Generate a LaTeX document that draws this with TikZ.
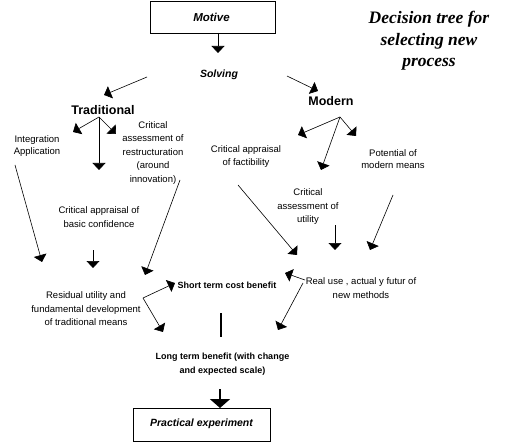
\documentclass[tikz,border=0pt]{standalone}
\usepackage{fontspec}
\setmainfont{Liberation Sans}
\newfontfamily\titlefont{Liberation Serif}
\usetikzlibrary{arrows.meta}
\tikzset{
  txt/.style={font=\fontsize{9.5}{13.5}\selectfont, align=center, inner sep=0pt},
  bld/.style={font=\bfseries\fontsize{9}{13.5}\selectfont, align=center, inner sep=0pt},
  hd/.style={font=\bfseries\fontsize{12.5}{15}\selectfont, inner sep=0pt},
  bi/.style={font=\bfseries\itshape\fontsize{10.5}{13}\selectfont, inner sep=0pt},
  boxed/.style={draw, line width=0.8pt},
  arr/.style={line width=0.6pt, -{Triangle[width=13pt,length=7pt]}},
  plain/.style={line width=0.5pt},
  bigarr/.style={line width=2pt, -{Triangle[width=20pt,length=9pt]}},
  thickline/.style={line width=2pt}
}
\begin{document}
\begin{tikzpicture}[x=1pt,y=-1pt]
\useasboundingbox (0,0) rectangle (515,444);
% boxes
\node[boxed, minimum width=125pt, minimum height=32pt, inner sep=0pt] (motivebox) at (212.5,17) {};
\node[bi, font=\bfseries\itshape\fontsize{11.5}{13}\selectfont] (motive) at (211.5,17) {Motive};
\node[boxed, minimum width=137pt, minimum height=33pt, inner sep=0pt] (practbox) at (201.5,424.5) {};
\node[bi] (pract) at (201.5,424) {Practical experiment};
% title
\node[font=\titlefont\bfseries\itshape\fontsize{17.5}{21.5}\selectfont, align=center, inner sep=0pt] (title) at (429,41) {Decision tree for\\selecting new\\process};
% texts
\node[bi] (solving) at (219,75) {Solving};
\node[hd] (trad) at (103,110) {Traditional};
\node[hd] (modern) at (331,101) {Modern};
\node[txt, font=\fontsize{9.5}{12}\selectfont] (integ) at (37,146) {Integration\\Application};
\node[txt] (restr) at (153,153) {Critical\\assessment of\\restructuration\\(around\\innovation)};
\node[txt] (basic) at (99,217) {Critical appraisal of\\basic confidence};
\node[txt] (resid) at (86,309) {Residual utility and\\fundamental development\\of traditional means};
\node[bld] (short) at (227,285) {Short term cost benefit};
\node[bld] (long) at (222.5,364) {Long term benefit (with change\\and expected scale)};
\node[txt, font=\fontsize{9.5}{13}\selectfont] (factib) at (246,157) {Critical appraisal\\of factibility};
\node[txt, font=\fontsize{9.5}{12.5}\selectfont] (potent) at (393,159) {Potential of\\modern means};
\node[txt] (util) at (308,207) {Critical\\assessment of\\utility};
\node[txt, font=\fontsize{9.5}{14.5}\selectfont] (real) at (361,288) {Real use , actual y futur of\\new methods};
% coordinates
\coordinate (m0) at (218,33);
\coordinate (m1) at (218,53);
\coordinate (s0) at (147,77);
\coordinate (s1) at (104,95);
\coordinate (s2) at (287,76);
\coordinate (s3) at (318,91);
\coordinate (t0) at (99,117);
\coordinate (t1) at (73,132);
\coordinate (t2) at (99,170);
\coordinate (t3) at (116,134);
\coordinate (o0) at (340,117);
\coordinate (o1) at (298,135);
\coordinate (o2) at (321,170);
\coordinate (o3) at (356,136);
\coordinate (i0) at (15,165);
\coordinate (i1) at (42,262);
\coordinate (b0) at (93,250);
\coordinate (b1) at (93,268);
\coordinate (r0) at (180,180);
\coordinate (r1) at (145,275);
\coordinate (d0) at (143,298);
\coordinate (d1) at (175,283);
\coordinate (d2) at (163,332);
\coordinate (k0) at (221,313);
\coordinate (k1) at (221,337);
\coordinate (l0) at (220,389);
\coordinate (l1) at (220,408);
\coordinate (f0) at (238,185);
\coordinate (f1) at (297,255);
\coordinate (u0) at (335,225);
\coordinate (u1) at (335,250);
\coordinate (p0) at (393,195);
\coordinate (p1) at (370,250);
\coordinate (e0) at (305,280);
\coordinate (e1) at (285,273);
\coordinate (e2) at (303,283);
\coordinate (e3) at (278,330);
% connectors
\draw[arr] (m0) -- (m1);
\draw[arr] (s0) -- (s1);
\draw[arr] (s2) -- (s3);
\draw[arr] (t0) -- (t1);
\draw[arr] (t0) -- (t2);
\draw[arr] (t0) -- (t3);
\draw[arr] (o0) -- (o1);
\draw[arr] (o0) -- (o2);
\draw[arr] (o0) -- (o3);
\draw[arr] (i0) -- (i1);
\draw[arr] (b0) -- (b1);
\draw[arr] (r0) -- (r1);
\draw[arr] (d0) -- (d1);
\draw[arr] (d0) -- (d2);
\draw[thickline] (k0) -- (k1);
\draw[bigarr] (l0) -- (l1);
\draw[arr] (f0) -- (f1);
\draw[arr] (u0) -- (u1);
\draw[arr] (p0) -- (p1);
\draw[arr] (e0) -- (e1);
\draw[arr] (e2) -- (e3);
\end{tikzpicture}
\end{document}
